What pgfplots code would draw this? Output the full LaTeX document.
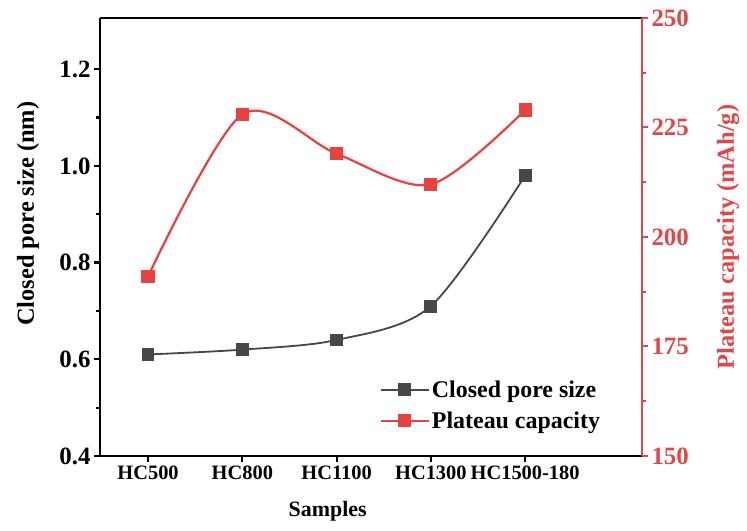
\documentclass[border=0pt]{standalone}
\usepackage{pgfplots}
\pgfplotsset{compat=1.18}
\usepackage{fontspec}
\setmainfont{Liberation Serif}
\definecolor{myred}{HTML}{E8413F}
\definecolor{axred}{HTML}{E04848}
\definecolor{mygray}{HTML}{474747}
\begin{document}
\begin{tikzpicture}[font=\bfseries]
\pgfplotsset{
  every axis/.append style={
    scale only axis, width=542bp, height=438bp,
    xmin=-0.51, xmax=5.24,
    tick align=outside, major tick length=6bp, minor tick length=4bp,
    yticklabel style={font=\fontsize{25}{27}\selectfont\bfseries},
    xticklabel style={font=\fontsize{20.5}{23}\selectfont\bfseries},
    /pgf/number format/assume math mode=true,
    legend image code/.code={
      \draw[mark repeat=2,mark phase=2,#1] plot coordinates {(0bp,0bp) (24bp,0bp) (48bp,0bp)};
    },
  }
}
\begin{axis}[
  clip=false,
  axis x line=box, axis y line*=left,
  axis line style={line width=2.8bp, black},
  major tick style={line width=2.2bp, black},
  minor tick style={line width=2.2bp, black},
  ymin=0.4, ymax=1.306,
  ytick={0.4,0.6,0.8,1.0,1.2},
  minor y tick num=1,
  yticklabel style={/pgf/number format/.cd, fixed, fixed zerofill, precision=1},
  xtick={0,1,2,3,4},
  xticklabels={HC500,HC800,HC1100,HC1300,HC1500-180},
  xtick pos=bottom,
  xlabel={Samples},
  ylabel={Closed pore size (nm)},
  xlabel style={font=\fontsize{22}{24}\selectfont\bfseries, at={(axis description cs:0.42,-0.126)}, anchor=center},
  ylabel style={font=\fontsize{24.5}{26}\selectfont\bfseries, at={(axis description cs:-0.133,0.553)}, anchor=center},
]
\addplot[mygray, line width=1.8bp, smooth, mark=square*, mark size=5.5bp, mark options={fill=mygray, draw=mygray}]
  coordinates {(0,0.61) (1,0.62) (2,0.64) (3,0.71) (4,0.98)};
\path (axis description cs:-0.1845,1.041) rectangle (axis description cs:1.1937,-0.169);
\end{axis}
\begin{axis}[
  axis y line*=right, axis x line=none,
  y axis line style={line width=2.2bp, axred},
  major tick style={line width=2bp, axred},
  minor tick style={line width=2bp, axred},
  ymin=150, ymax=250,
  ytick={150,175,200,225,250},
  minor y tick num=1,
  yticklabel style={axred},
  ylabel={Plateau capacity (mAh/g)},
  ylabel style={font=\fontsize{24.5}{26}\selectfont\bfseries, axred, at={(axis description cs:1.159,0.5)}, anchor=center},
  legend style={draw=none, fill=none, at={(axis description cs:0.932,0.05)}, anchor=south east,
    font=\fontsize{24}{26}\selectfont\bfseries, row sep=9bp},
  legend cell align=left,
]
\addlegendimage{mygray, line width=1.8bp, mark=square*, mark size=5.5bp, mark options={fill=mygray, draw=mygray}}
\addlegendentry{Closed pore size}
\addplot[myred, line width=2.2bp, smooth, mark=square*, mark size=5.5bp, mark options={fill=myred, draw=myred}]
  coordinates {(0,191) (1,228) (2,219) (3,212) (4,229)};
\addlegendentry{Plateau capacity}
\end{axis}
\end{tikzpicture}
\end{document}
